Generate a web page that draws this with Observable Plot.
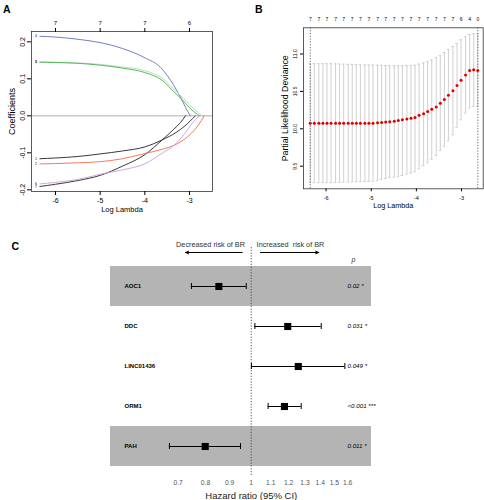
<!DOCTYPE html>
<html>
<head>
<meta charset="utf-8">
<script src="https://cdn.jsdelivr.net/npm/d3@7"></script>
<script src="https://cdn.jsdelivr.net/npm/@observablehq/plot@0.6"></script>
<style>
html,body{margin:0;padding:0;background:#fff;}
#wrap{position:relative;width:484px;height:500px;overflow:hidden;font-family:"Liberation Sans",Arial,Helvetica,sans-serif;}
.panel{position:absolute;}
.panel svg{overflow:visible;}
.letter{position:absolute;font-weight:bold;font-size:10.5px;line-height:1;color:#000;}
</style>
</head>
<body>
<div id="wrap">
  <div class="panel" id="pa" style="left:0;top:0"></div>
  <div class="panel" id="pb" style="left:242px;top:0"></div>
  <div class="panel" id="pc" style="left:0;top:230px"></div>
  <div class="letter" style="left:3px;top:3.6px">A</div>
  <div class="letter" style="left:255px;top:3.6px">B</div>
  <div class="letter" style="left:11.5px;top:240.9px">C</div>
</div>
<script>
// ---------------- Panel A: LASSO coefficient paths ----------------
const coefBlue    = [[-6.35,0.215],[-6.0,0.213],[-5.5,0.207],[-5.0,0.198],[-4.5,0.182],[-4.0,0.157],[-3.65,0.131],[-3.35,0.082],[-3.2,0.05],[-3.09,0.023],[-2.98,0]];
const coefLtGreen = [[-6.35,0.146],[-6.0,0.145],[-5.5,0.143],[-5.0,0.139],[-4.5,0.132],[-4.0,0.122],[-3.6,0.101],[-3.35,0.072],[-3.15,0.049],[-3.0,0.03],[-2.85,0.013],[-2.72,0]];
const coefGreen   = [[-6.35,0.145],[-6.0,0.144],[-5.5,0.142],[-5.0,0.137],[-4.5,0.129],[-4.0,0.117],[-3.6,0.095],[-3.35,0.065],[-3.15,0.042],[-3.0,0.022],[-2.88,0.009],[-2.77,0]];
const coefBlack1  = [[-6.35,-0.116],[-6.0,-0.114],[-5.5,-0.11],[-5.0,-0.103],[-4.5,-0.095],[-4.0,-0.084],[-3.61,-0.065],[-3.3,-0.045],[-3.1,-0.027],[-2.87,0]];
const coefBlack2  = [[-6.35,-0.191],[-6.0,-0.185],[-5.5,-0.175],[-5.0,-0.161],[-4.5,-0.136],[-4.0,-0.105],[-3.61,-0.065],[-3.35,-0.036],[-3.2,-0.018],[-3.09,0]];
const coefRed     = [[-6.35,-0.13],[-6.0,-0.129],[-5.5,-0.127],[-5.0,-0.124],[-4.5,-0.116],[-4.0,-0.102],[-3.6,-0.09],[-3.35,-0.08],[-3.0,-0.052],[-2.8,-0.025],[-2.67,0]];
const coefPurple  = [[-6.35,-0.184],[-6.0,-0.18],[-5.5,-0.172],[-5.0,-0.158],[-4.5,-0.146],[-4.0,-0.13],[-3.6,-0.1],[-3.35,-0.08],[-3.1,-0.047],[-2.95,-0.022],[-2.78,0]];
const aVarLabels  = ["4","5","3","1","7","2","6"];
const aColors     = ["#6670b8","#a8dcb8","#4cae4c","#222222","#222222","#f26a4a","#c7a0dc"];
const aBottomTicks = [-6,-5,-4,-3];
const aTopTicks    = [-6,-5,-4,-3];
const aTopLabels   = ["7","7","7","6"];
const aYTicks      = [-0.2,-0.1,0,0.1,0.2];

// ---------------- Panel B: cross-validation curve ----------------
const bLogLambda = [-6.35,-6.26,-6.16,-6.07,-5.98,-5.89,-5.79,-5.70,-5.61,-5.51,-5.42,-5.33,-5.24,-5.14,-5.05,-4.96,-4.86,-4.77,-4.68,-4.59,-4.49,-4.40,-4.31,-4.21,-4.12,-4.03,-3.94,-3.84,-3.75,-3.66,-3.56,-3.47,-3.38,-3.29,-3.19,-3.10,-3.01,-2.91,-2.82,-2.73,-2.64];
const bMean  = [10.075,10.075,10.075,10.075,10.075,10.075,10.075,10.075,10.075,10.075,10.075,10.075,10.075,10.075,10.075,10.075,10.08,10.085,10.09,10.095,10.10,10.11,10.12,10.13,10.14,10.15,10.18,10.20,10.23,10.26,10.29,10.34,10.39,10.45,10.51,10.58,10.65,10.72,10.78,10.79,10.78];
const bUpper = [10.87,10.87,10.87,10.87,10.87,10.87,10.868,10.866,10.864,10.862,10.86,10.858,10.856,10.855,10.853,10.852,10.85,10.848,10.846,10.844,10.842,10.842,10.842,10.843,10.846,10.85,10.864,10.88,10.90,10.92,10.95,10.976,11.02,11.06,11.10,11.14,11.19,11.23,11.26,11.27,11.27];
const bLower = [9.28,9.28,9.28,9.28,9.28,9.28,9.282,9.284,9.286,9.288,9.29,9.292,9.294,9.295,9.297,9.298,9.31,9.322,9.334,9.346,9.353,9.362,9.376,9.393,9.406,9.425,9.465,9.505,9.545,9.594,9.643,9.71,9.767,9.84,9.92,10.02,10.12,10.21,10.28,10.30,10.30];
const bNzero = [7,7,7,7,7,7,7,7,7,7,7,7,7,7,7,7,7,7,7,7,7,7,7,7,7,7,7,7,7,7,7,7,7,7,7,7,6,5,4,2,0];
const bLambdaLines = [-6.35,-2.64];
const bXTicks = [-6,-5,-4,-3];
const bYTicks = [9.5,10,10.5,11];

// ---------------- Panel C: forest plot ----------------
const genes   = ["AOC1","DDC","LINC01436","ORM1","PAH"];
const hrEst   = [0.854,1.195,1.258,1.176,0.799];
const hrLow   = [0.747,1.018,1.001,1.086,0.671];
const hrHigh  = [0.976,1.407,1.579,1.276,0.949];
const pLabels = ["0.02 *","0.031 *","0.049 *","<0.001 ***","0.011 *"];
const shadedGenes = ["AOC1","PAH"];
const hrTicks = [0.7,0.8,0.9,1,1.1,1.2,1.3,1.4,1.5,1.6];
const riskText   = ["Decreased risk of BR","Increased\u00a0 risk of BR"];
const riskTextX  = [0.82,1.211];
const riskFrom   = [0.957,1.046];
const riskTo     = [0.726,1.39];

const FONT = "Liberation Sans, Arial, Helvetica, sans-serif";

// ---- Panel A
const aSeries = [coefBlue,coefLtGreen,coefGreen,coefBlack1,coefBlack2,coefRed,coefPurple];
const aStarts = aSeries.map((s,i) => ({x: s[0][0], y: s[0][1], t: aVarLabels[i]}));
const plotA = Plot.plot({
  width: 222, height: 225,
  marginLeft: 31, marginRight: 10, marginTop: 31, marginBottom: 34,
  style: {fontFamily: FONT, background: "transparent", overflow: "visible"},
  x: {domain: [-6.537, -2.485]},
  y: {domain: [-0.2046, 0.228]},
  marks: [
    Plot.ruleY([0], {stroke: "#9a9a9a", strokeWidth: 0.8}),
    ...aSeries.map((s,i) => Plot.line(s, {x: d => d[0], y: d => d[1], stroke: aColors[i], strokeWidth: 0.9, curve: "monotone-x"})),
    Plot.text(aStarts, {x: "x", y: "y", text: "t", dx: -3, textAnchor: "end", fontSize: 3.5}),
    Plot.frame({stroke: "#333", strokeWidth: 0.8}),
    Plot.axisX({ticks: aBottomTicks, tickSize: 4, tickPadding: 3, fontSize: 7, tickFormat: d => String(d), label: null}),
    Plot.axisX({anchor: "top", ticks: aTopTicks, tickSize: 4, tickPadding: 3, fontSize: 6, tickFormat: d => aTopLabels[aTopTicks.indexOf(d)], label: null}),
    Plot.axisY({ticks: aYTicks, tickRotate: -90, tickSize: 4, tickPadding: 3, fontSize: 7, tickFormat: d => d.toFixed(1), label: null}),
    Plot.text(["Log Lambda"], {text: d => d, frameAnchor: "bottom", textAnchor: "middle", lineAnchor: "middle", dy: 18, fontSize: 7.5}),
    Plot.text(["Coefficients"], {text: d => d, frameAnchor: "left", textAnchor: "middle", lineAnchor: "middle", dx: -19.3, rotate: -90, fontSize: 9})
  ]
});
document.getElementById("pa").appendChild(plotA);

// ---- Panel B
const bData = bLogLambda.map((x,i) => ({x, mean: bMean[i], up: bUpper[i], lo: bLower[i]}));
const bTopTicks = bLogLambda.filter((d,i) => i % 2 === 0);
const plotB = Plot.plot({
  width: 242, height: 225,
  marginLeft: 61, marginRight: 1.3, marginTop: 27.3, marginBottom: 36.7,
  style: {fontFamily: FONT, background: "transparent", overflow: "visible"},
  x: {domain: [-6.5, -2.52]},
  y: {domain: [9.198, 11.35]},
  marks: [
    Plot.ruleX(bData, {x: "x", y1: "lo", y2: "up", stroke: "#c4c4c4", strokeWidth: 0.8}),
    Plot.ruleY(bData, {y: "up", x1: "x", x2: "x", insetLeft: -1.3, insetRight: -1.3, stroke: "#c4c4c4", strokeWidth: 0.8}),
    Plot.ruleY(bData, {y: "lo", x1: "x", x2: "x", insetLeft: -1.3, insetRight: -1.3, stroke: "#c4c4c4", strokeWidth: 0.8}),
    Plot.ruleX(bLambdaLines, {stroke: "#444", strokeWidth: 0.8, strokeDasharray: "1.2,1.6"}),
    Plot.dot(bData, {x: "x", y: "mean", r: 1.5, fill: "#e00000", stroke: null}),
    Plot.frame({stroke: "#333", strokeWidth: 0.8}),
    Plot.axisX({ticks: bXTicks, tickSize: 3, tickPadding: 4, fontSize: 5.5, tickFormat: d => String(d), label: null}),
    Plot.axisX({anchor: "top", ticks: bTopTicks, tickSize: 0, tickPadding: 7, fontSize: 5, tickFormat: d => String(bNzero[bLogLambda.indexOf(d)]), label: null}),
    Plot.axisY({ticks: bYTicks, tickRotate: -90, tickSize: 3, tickPadding: 4, fontSize: 5, tickFormat: d => d.toFixed(1), label: null}),
    Plot.text(["Log Lambda"], {text: d => d, frameAnchor: "bottom", textAnchor: "middle", lineAnchor: "middle", dy: 16.7, fontSize: 7.2}),
    Plot.text(["Partial Likelihood Deviance"], {text: d => d, frameAnchor: "left", textAnchor: "middle", lineAnchor: "middle", dx: -18.3, rotate: -90, fontSize: 8.8})
  ]
});
document.getElementById("pb").appendChild(plotB);

// ---- Panel C
const rows = genes.map((g,i) => ({gene: g, hr: hrEst[i], lo: hrLow[i], hi: hrHigh[i], p: pLabels[i]}));
const shadedRows = rows.filter(d => shadedGenes.includes(d.gene));
const notes = riskText.map((t,i) => ({t, x: riskTextX[i], x1: riskFrom[i], x2: riskTo[i], gene: genes[0]}));
const plotC = Plot.plot({
  width: 484, height: 270,
  marginLeft: 110, marginRight: 113, marginTop: 35, marginBottom: 32.7,
  style: {fontFamily: FONT, background: "transparent", overflow: "visible"},
  x: {type: "log", domain: [0.5034, 1.798]},
  y: {type: "band", domain: genes, padding: 0, axis: null},
  marks: [
    Plot.cell(shadedRows, {y: "gene", fill: "#b4b4b4"}),
    Plot.ruleX([1], {stroke: "#444", strokeWidth: 0.9, strokeDasharray: "1.2,1.6", insetTop: -18, insetBottom: -8}),
    Plot.ruleY(rows, {y: "gene", x1: "lo", x2: "hi", stroke: "#000", strokeWidth: 1}),
    Plot.tickX(rows, {x: "lo", y: "gene", insetTop: 17, insetBottom: 17, stroke: "#000"}),
    Plot.tickX(rows, {x: "hi", y: "gene", insetTop: 17, insetBottom: 17, stroke: "#000"}),
    Plot.dot(rows, {x: "hr", y: "gene", symbol: "square", r: 4, fill: "#000", stroke: null}),
    Plot.text(rows, {y: "gene", text: "gene", frameAnchor: "left", dx: 14, textAnchor: "start", fontWeight: "bold", fontSize: 6}),
    Plot.text(rows, {y: "gene", text: "p", frameAnchor: "right", dx: -24, textAnchor: "start", fontStyle: "italic", fontSize: 6.2}),
    Plot.text(["p"], {text: d => d, frameAnchor: "top-right", textAnchor: "middle", lineAnchor: "middle", dx: -18, dy: -6, fontStyle: "italic", fontSize: 7, fill: "#333"}),
    Plot.text(notes, {x: "x", y: "gene", text: "t", textAnchor: "middle", lineAnchor: "middle", dy: -41.7, fontSize: 7.3, fill: "#333"}),
    Plot.arrow(notes, {x1: "x1", x2: "x2", y1: "gene", y2: "gene", dy: -34, stroke: "#000", strokeWidth: 1, headLength: 5, headAngle: 45}),
    Plot.axisX({ticks: hrTicks, tickSize: 0, tickPadding: 12, fontSize: 6.7, color: "#555", tickFormat: d => String(d), label: null}),
    Plot.text(["Hazard ratio (95% CI)"], {text: d => d, frameAnchor: "bottom", textAnchor: "middle", lineAnchor: "middle", dx: 10.3, dy: 27.7, fontSize: 9.5, fill: "#222"})
  ]
});
document.getElementById("pc").appendChild(plotC);
</script>
</body>
</html>
